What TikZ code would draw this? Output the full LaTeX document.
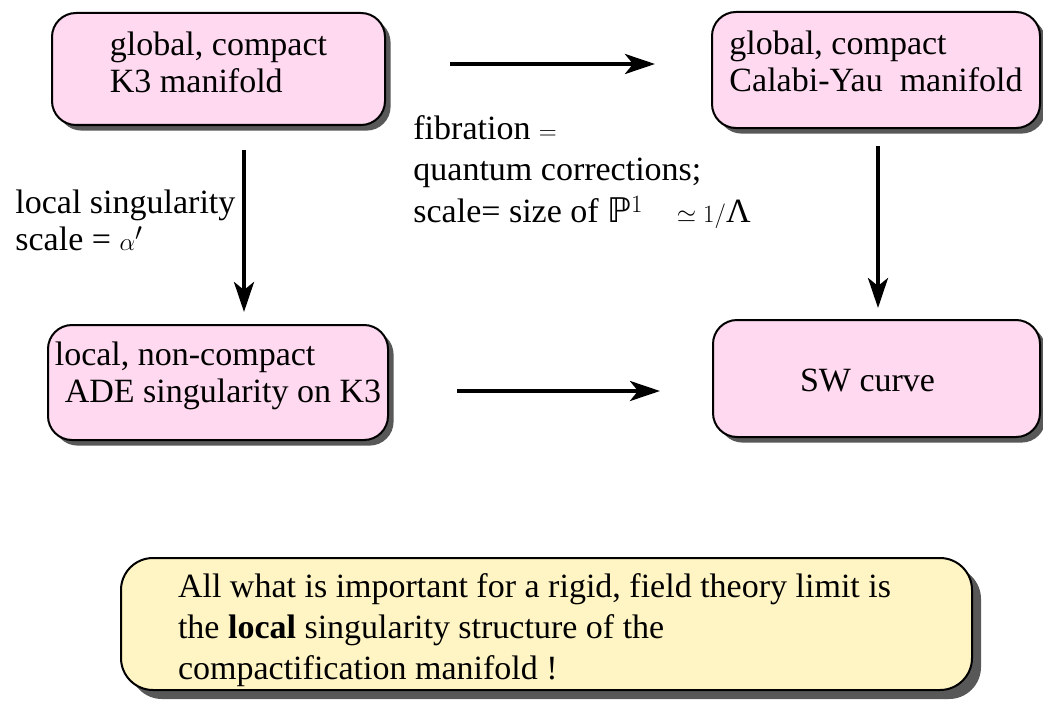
\documentclass[tikz,border=0pt]{standalone}
\usepackage{fontspec}
\usepackage{graphicx}
\newfontfamily\timesfam{Liberation Serif}
\newfontfamily\dejavu{DejaVu Sans}
\usetikzlibrary{arrows.meta}
\definecolor{pinkfill}{HTML}{FFD9F0}
\definecolor{notefill}{HTML}{FFF5C4}
\definecolor{shadowgray}{HTML}{585858}
\newcommand\liftby[2]{\raisebox{#1}[\height][\depth]{#2}}
\newcommand\halfsize[1]{\scalebox{0.5}{#1}}
\begin{document}
\begin{tikzpicture}[x=0.5pt,y=-0.5pt,
  every node/.style={font=\timesfam\fontsize{34pt}{37pt}\selectfont},
  box/.style={draw=black, line width=1pt, rounded corners=12pt, fill=pinkfill, inner sep=0pt,
    preaction={draw=none, fill=shadowgray, transform canvas={xshift=2.8pt, yshift=-2.8pt}}},
  note/.style={draw=black, line width=1pt, rounded corners=16pt, fill=notefill, inner sep=0pt,
    preaction={draw=none, fill=shadowgray, transform canvas={xshift=4.5pt, yshift=-4.5pt}}},
  conn/.style={line width=2pt, -{Stealth[length=15pt,width=10pt,inset=4pt]}},
  lbl/.style={anchor=base west, inner sep=0pt}
]
\useasboundingbox (0,0) rectangle (1043,706);

\node[box, minimum width=166.5pt, minimum height=56pt] (k3) at (218.5,69)
  {\liftby{1pt}{\halfsize{\begin{tabular}{@{}l@{}}global, compact\\K3 manifold\end{tabular}}}};
\node[box, minimum width=164pt, minimum height=58pt] (cy) at (876,70)
  {\liftby{2pt}{\halfsize{\begin{tabular}{@{}l@{}}global, compact\\Calabi-Yau\ \ manifold\end{tabular}}}};
\node[box, minimum width=170pt, minimum height=57.5pt] (ade) at (218,382.5)
  {\liftby{3pt}{\halfsize{\begin{tabular}{@{}l@{}}local, non-compact\\\hspace*{10pt}ADE singularity on K3\end{tabular}}}};
\node[box, minimum width=163.5pt, minimum height=58.5pt] (sw) at (876.5,378.5)
  {\liftby{-1pt}{\halfsize{SW curve}}\kern9pt};
\node[note, minimum width=425.5pt, minimum height=66pt, font=\timesfam\fontsize{34pt}{41pt}\selectfont] (msg) at (546.5,624)
  {\liftby{-3pt}{\halfsize{\begin{tabular}{@{}l@{}}All what is important for a rigid, field theory limit is\\the \textbf{local} singularity structure of the\\compactification manifold !\end{tabular}}}\kern12pt};

\node[lbl] (loclab) at (15,213)
  {\halfsize{\begin{tabular}[t]{@{}l@{}}local singularity\\scale = $\alpha'$\end{tabular}}};
\node[lbl, font=\timesfam\fontsize{34pt}{41pt}\selectfont] (fiblab) at (413,140)
  {\halfsize{\begin{tabular}[t]{@{}l@{}}fibration $=$\\quantum corrections;\\scale= size of {\dejavu ℙ}$^1$\quad$\simeq 1/$Λ\end{tabular}}};

\coordinate (ta) at (450,64);  \coordinate (tb) at (655,64);
\coordinate (la) at (244,150); \coordinate (lb) at (244,312);
\coordinate (ra) at (878,146); \coordinate (rb) at (878,308);
\coordinate (ba) at (457,391); \coordinate (bb) at (660,391);
\draw[conn] (ta) -- (tb);
\draw[conn] (la) -- (lb);
\draw[conn] (ra) -- (rb);
\draw[conn] (ba) -- (bb);
\end{tikzpicture}
\end{document}
